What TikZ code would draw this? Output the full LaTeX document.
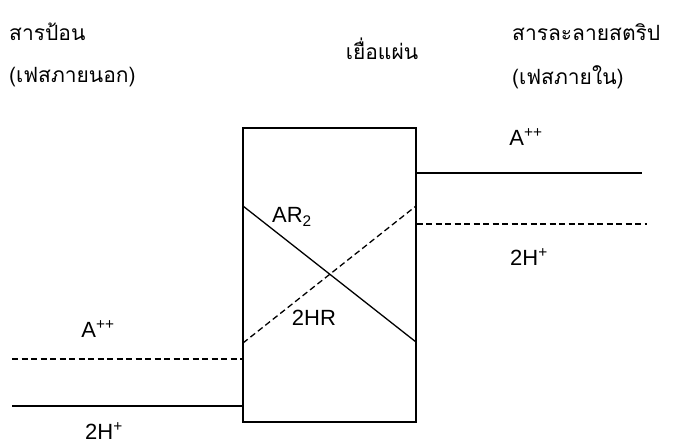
\documentclass[tikz,border=0pt]{standalone}
\usepackage{fontspec}
\setmainfont{Liberation Sans}
\newfontfamily\thaifont[Script=Thai]{Loma}
\usepackage{tikz}

\begin{document}
\begin{tikzpicture}[x=1pt,y=-1pt,
        level/.style={line width=1.3pt},
        dlevel/.style={line width=1.3pt,dash pattern=on 6pt off 3.5pt},
        lab/.style={inner sep=0pt,font=\fontsize{22}{26}\selectfont},
        title/.style={inner sep=0pt,anchor=west,font=\fontsize{21}{25}\selectfont\thaifont}]
    \useasboundingbox (0,0) rectangle (678,445);

    % Titles
    \node[title] (feed) at (9,32) {สารป้อน};
    \node[title] (feedph) at (9,77) {(เฟสภายนอก)};
    \node[title,anchor=center] (memt) at (382,49) {เยื่อแผ่น};
    \node[title] (strip) at (512,32) {สารละลายสตริป};
    \node[title] (stripph) at (512,77) {(เฟสภายใน)};

    % Membrane
    \node[draw,line width=1.3pt,minimum width=173pt,minimum height=294pt,inner sep=0pt] (mem) at (329.5,275) {};

    % Carrier lines in the membrane
    \coordinate (ar1) at (243,206);
    \coordinate (ar2) at (416,342);
    \coordinate (hr1) at (243,343);
    \coordinate (hr2) at (416,206);
    \draw[level] (ar1) -- (ar2);
    \draw[dlevel] (hr1) -- (hr2);
    \node[lab] (ar) at (292,217) {AR\textsubscript{2}};
    \node[lab] (hr) at (314,318) {2HR};

    % Feed side
    \coordinate (fa) at (12,359);
    \coordinate (fh) at (12,406);
    \draw[dlevel] (fa) -- (fa -| mem.west);
    \draw[level] (fh) -- (fh -| mem.west);
    \node[lab] (fal) at (98,329) {A\textsuperscript{++}};
    \node[lab] (fhl) at (104,431) {2H\textsuperscript{+}};

    % Strip side
    \coordinate (sa) at (642,173);
    \coordinate (sh) at (647,224);
    \draw[level] (sa -| mem.east) -- (sa);
    \draw[dlevel] (sh -| mem.east) -- (sh);
    \node[lab] (sal) at (526,137) {A\textsuperscript{++}};
    \node[lab] (shl) at (529,257) {2H\textsuperscript{+}};

\end{tikzpicture}
\end{document}
